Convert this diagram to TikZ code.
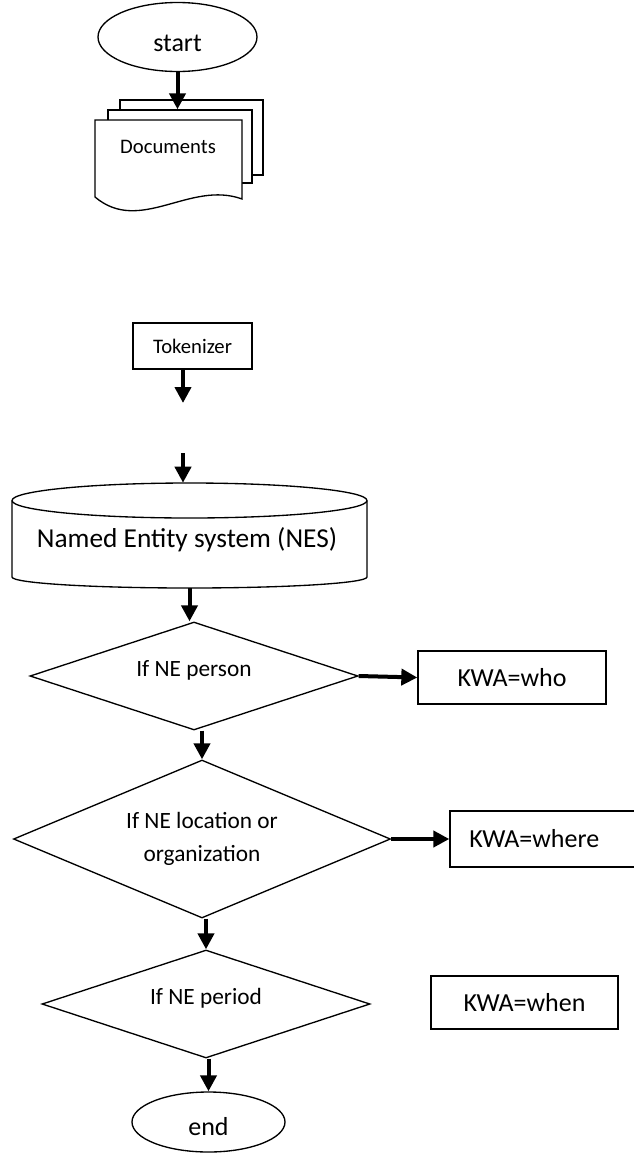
\documentclass[tikz,border=0pt]{standalone}
\usepackage{fontspec}
\setmainfont{Carlito}
\usetikzlibrary{shapes.geometric, arrows.meta}
\begin{document}
\begin{tikzpicture}[x=0.75pt, y=0.75pt,
  outl/.style={draw, line width=1pt, fill=white},
  boxn/.style={outl, rectangle, inner sep=0pt},
  ovaln/.style={outl, ellipse, inner sep=0pt},
  decn/.style={outl, diamond, inner sep=0pt, align=center, font=\fontsize{17.5}{24.75}\selectfont},
  flow/.style={line width=3pt, -{Triangle[length=12pt,width=12pt]}},
  big/.style={font=\fontsize{19.5}{23}\selectfont},
  small/.style={font=\fontsize{15.5}{19}\selectfont}]
\useasboundingbox (0,0) rectangle (634,-1153);

% start
\node[ovaln, big, text height=22pt, minimum width=119.25pt, minimum height=51.75pt] (start) at (177.5,-37) {start};

% documents
\node[boxn, minimum width=107.25pt, minimum height=56.25pt] (docback) at (191.5,-137.5) {};
\node[boxn, minimum width=108pt, minimum height=54.75pt] (docmid) at (180,-146.5) {};
\draw[outl] (95,-120) -- (242,-120) -- (242,-199) .. controls (190,-180) and (140,-235) .. (95,-197) -- cycle;
\node[small] (docs) at (168,-147) {Documents};
\draw[flow] (start.south) -- (start.south |- docmid.north);

% tokenizer
\node[boxn, small, minimum width=89.25pt, minimum height=34.5pt] (tok) at (192.5,-346) {Tokenizer};
\coordinate (tokend) at (183,-403);
\draw[flow] (tok.south -| tokend) -- (tokend);

% named entity system
\coordinate (nesin) at (183,-453);
\draw[outl] (12,-500.5) -- (12,-577) arc[start angle=180, end angle=360, x radius=177.5, y radius=11]
  -- (367,-500.5) arc[start angle=0, end angle=180, x radius=177.5, y radius=17.5] -- cycle;
\draw[line width=1pt] (12,-500.5) arc[start angle=180, end angle=360, x radius=177.5, y radius=17.5];
\node[inner sep=0pt, minimum width=266.25pt, minimum height=78.75pt] (nes) at (189.5,-535.5) {};
\node[font=\fontsize{20.5}{24}\selectfont] (nestxt) at (187,-540) {Named Entity system (NES)};
\draw[flow] (nesin) -- (nesin |- nes.north);

% decisions
\node[decn, aspect=3, text depth=11pt, minimum width=246pt, minimum height=81pt] (d1) at (194,-676) {If NE person};
\node[decn, aspect=2.4, minimum width=282.75pt, minimum height=118.5pt] (d2) at (202,-839) {If NE location or\\organization};
\node[decn, aspect=3, text depth=11pt, minimum width=246pt, minimum height=81pt] (d3) at (206,-1004) {If NE period};

% results
\node[boxn, big, minimum width=141pt, minimum height=39.75pt] (who) at (512,-677.5) {KWA=who};
\node[boxn, big, minimum width=147pt, minimum height=42pt, text width=130pt, align=left] (where) at (548,-839) {\hspace*{6pt}KWA=where};
\node[boxn, big, minimum width=140.25pt, minimum height=39.75pt] (when) at (524.5,-1002.5) {KWA=when};

% end
\node[ovaln, big, text height=21pt, minimum width=114.75pt, minimum height=45pt] (endn) at (208.5,-1122) {end};

% connectors
\draw[flow] (nes.south) -- (nes.south |- d1.north);
\draw[flow] (d1.south -| d2.north) -- (d2.north);
\draw[flow] (d2.south -| d3.north) -- (d3.north);
\draw[flow] (d3.south -| endn.north) -- (endn.north);
\draw[flow] (d1.east) -- (who.west);
\draw[flow] (d2.east) -- (where.west);
\end{tikzpicture}
\end{document}
